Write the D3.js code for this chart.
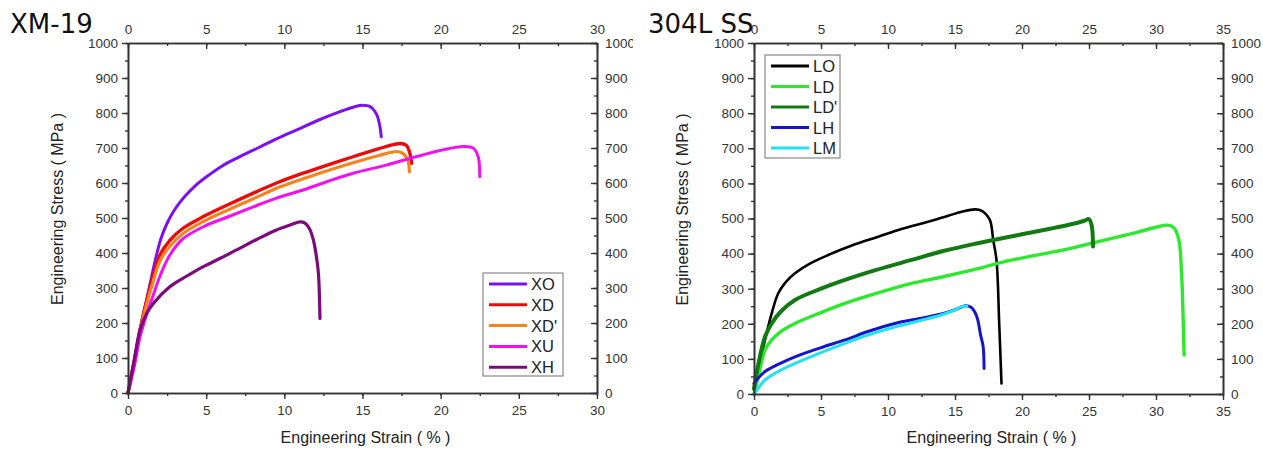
<!DOCTYPE html>
<html>
<head>
<meta charset="utf-8">
<script src="https://cdn.jsdelivr.net/npm/d3@7"></script>
<style>
  body { margin: 0; background: #fff; }
  svg { display: block; }
  .tick text { font-family: "Liberation Sans", Arial, sans-serif; fill: #333; }
</style>
</head>
<body>
<div id="chart"></div>
<script>
// Series: [strain %, stress MPa]
const XO = [[0,0],[0.4,92],[0.77,180],[1.2,268],[1.5,330],[1.8,390],[2.1,440],[2.5,485],[3.0,525],[3.6,560],[4.3,592],[5.0,617],[6.0,648],[7.0,672],[8.3,700],[9.5,726],[10.8,752],[12.2,780],[13.56,804],[14.5,818],[15.0,822],[15.5,818],[15.9,796],[16.1,765],[16.2,732]];
const XD = [[0,0],[0.4,90],[0.77,180],[1.2,265],[1.62,335],[2.05,395],[2.69,437],[3.5,470],[4.82,504],[6.5,540],[8.02,571],[9.5,600],[11.2,628],[12.8,652],[14.4,675],[16.5,704],[17.4,713],[17.8,708],[18.0,690],[18.15,656]];
const XDp = [[0,0],[0.4,88],[0.77,175],[1.2,255],[1.62,320],[2.05,378],[2.69,420],[3.5,455],[4.82,490],[6.5,525],[8.02,555],[9.5,585],[11.2,612],[12.8,636],[14.4,658],[16.0,678],[17.2,690],[17.6,684],[17.9,665],[18.0,632]];
const XU = [[0,0],[0.4,75],[0.77,160],[1.2,225],[1.62,280],[2.1,340],[2.69,395],[3.5,440],[4.82,475],[6.5,505],[8.02,532],[9.5,557],[11.2,580],[12.8,605],[14.4,628],[16.5,651],[18.0,670],[19.5,688],[20.5,698],[21.45,704],[22.1,699],[22.4,675],[22.5,618]];
const XH = [[0,0],[0.4,95],[0.77,180],[1.2,228],[1.62,256],[2.69,304],[3.8,335],[4.82,361],[6.0,387],[6.95,409],[8.2,438],[9.5,466],[10.5,482],[11.0,489],[11.3,486],[11.6,470],[11.86,437],[12.05,390],[12.18,342],[12.28,213]];

const LO = [[0,0],[0.3,60],[0.82,154],[1.32,230],[1.81,287],[2.4,320],[3.06,344],[4.2,372],[5.54,396],[7.3,423],[9.27,448],[11.0,470],[13.0,491],[14.5,508],[15.5,519],[16.5,526],[17.0,522],[17.6,496],[17.85,439],[18.1,380],[18.3,200],[18.47,30]];
const LD = [[0,0],[0.32,49],[0.82,125],[1.32,154],[2.0,178],[3.06,201],[5.0,232],[6.79,258],[9.0,285],[11.76,315],[13.87,332],[16.7,357],[18.7,377],[21.0,395],[23.3,412],[26.0,437],[28.5,460],[30.0,475],[30.8,481],[31.3,475],[31.7,440],[31.9,350],[32.0,250],[32.1,111]];
const LDp = [[0,15],[0.3,80],[0.82,163],[1.32,201],[2.0,235],[3.06,268],[5.0,300],[6.79,325],[9.0,352],[11.76,382],[14.2,408],[16.5,428],[18.7,445],[20.0,455],[22.0,470],[23.5,482],[24.6,493],[25.0,498],[25.2,480],[25.3,420]];
const LH = [[0,30],[0.3,45],[0.82,64],[2.0,88],[3.06,106],[5.0,132],[6.79,154],[8.5,178],[10.5,201],[12.5,216],[14.2,230],[15.2,243],[15.7,251],[16.2,247],[16.5,232],[16.7,211],[16.9,170],[17.1,135],[17.17,73]];
const LM = [[0,0],[0.3,15],[0.82,40],[2.0,68],[3.06,87],[5.0,118],[6.79,144],[8.5,168],[10.5,191],[12.5,210],[14.2,228],[15.0,240],[15.5,249],[15.9,250]];

const leftNames = ["XO", "XD", "XD'", "XU", "XH"];
const leftSeries = [XO, XD, XDp, XU, XH];
const leftColors = ["#7b10f0", "#e80c0c", "#f5841f", "#f010f0", "#7d0a7d"];

const rightNames = ["LO", "LD", "LD'", "LH", "LM"];
const rightSeries = [LO, LD, LDp, LH, LM];
const rightColors = ["#000000", "#2ee82e", "#127a12", "#1414c8", "#22e2f0"];

const stressTicks = [0, 100, 200, 300, 400, 500, 600, 700, 800, 900, 1000];

const W = 1263, H = 461;
const svg = d3.select("#chart").append("svg").attr("width", W).attr("height", H);

// left panel is cut off where the right picture starts
svg.append("defs").append("clipPath").attr("id", "leftClip")
  .append("rect").attr("x", 0).attr("y", 0).attr("width", 633).attr("height", H);

drawPanel({
  title: "XM-19", titleX: 10,
  x0: 128, x1: 597, y0: 43, y1: 393,
  xMax: 30, xMajor: [0, 5, 10, 15, 20, 25, 30],
  names: leftNames, series: leftSeries, colors: leftColors,
  widths: [3, 3.4, 3.2, 3, 3.2],
  legend: { x: 483, y: 273, w: 80, h: 103, rowY: 11, step: 20.8 },
  yTitleX: 57, clip: "url(#leftClip)"
});

drawPanel({
  title: "304L SS", titleX: 648,
  x0: 754, x1: 1223, y0: 43, y1: 394,
  xMax: 35, xMajor: [0, 5, 10, 15, 20, 25, 30, 35],
  names: rightNames, series: rightSeries, colors: rightColors,
  widths: [2.6, 3.4, 4, 3, 3],
  legend: { x: 765, y: 55, w: 75, h: 103, rowY: 11, step: 20.5 },
  yTitleX: 682, clip: null
});

function drawPanel(cfg) {
  const g = svg.append("g");
  if (cfg.clip) g.attr("clip-path", cfg.clip);

  const x = d3.scaleLinear().domain([0, cfg.xMax]).range([cfg.x0, cfg.x1]);
  const y = d3.scaleLinear().domain([0, 1000]).range([cfg.y1, cfg.y0]);
  const xMinor = d3.range(0, cfg.xMax + 0.01, 2.5);
  const yMinor = d3.range(0, 1001, 50);

  // curves first, axes frame on top
  const line = d3.line()
    .x(d => x(d[0]))
    .y(d => y(d[1]))
    .curve(d3.curveCatmullRom.alpha(0.5));

  cfg.series.forEach((s, i) => {
    g.append("path")
      .datum(s)
      .attr("d", line)
      .attr("fill", "none")
      .attr("stroke", cfg.colors[i])
      .attr("stroke-width", cfg.widths[i])
      .attr("stroke-linejoin", "round")
      .attr("stroke-linecap", "round");
  });

  const fmtNone = () => "";
  const fmtInt = d3.format("d");
  const axisColor = "#333";

  function styleAxis(sel) {
    sel.select(".domain").attr("stroke", axisColor).attr("stroke-width", 1.6);
    sel.selectAll(".tick line").attr("stroke", axisColor).attr("stroke-width", 1.4);
    sel.selectAll(".tick text").style("font-size", "13.5px");
  }

  // bottom: ticks pointing down, labels below
  g.append("g").attr("transform", `translate(0,${cfg.y1})`)
    .call(d3.axisBottom(x).tickValues(xMinor).tickSize(3).tickFormat(fmtNone).tickSizeOuter(0))
    .call(styleAxis);
  g.append("g").attr("transform", `translate(0,${cfg.y1})`)
    .call(d3.axisBottom(x).tickValues(cfg.xMajor).tickSize(6).tickPadding(6).tickFormat(fmtInt).tickSizeOuter(0))
    .call(styleAxis);

  // top: ticks also pointing down, labels above
  g.append("g").attr("transform", `translate(0,${cfg.y0})`)
    .call(d3.axisBottom(x).tickValues(xMinor).tickSize(3).tickFormat(fmtNone).tickSizeOuter(0))
    .call(styleAxis);
  g.append("g").attr("transform", `translate(0,${cfg.y0})`)
    .call(d3.axisBottom(x).tickValues(cfg.xMajor).tickSize(6).tickFormat(fmtNone).tickSizeOuter(0))
    .call(styleAxis);
  g.append("g").attr("transform", `translate(0,${cfg.y0})`)
    .call(d3.axisTop(x).tickValues(cfg.xMajor).tickSize(0).tickPadding(9).tickFormat(fmtInt))
    .call(styleAxis)
    .call(a => a.select(".domain").remove());

  // left: ticks pointing left
  g.append("g").attr("transform", `translate(${cfg.x0},0)`)
    .call(d3.axisLeft(y).tickValues(yMinor).tickSize(3).tickFormat(fmtNone).tickSizeOuter(0))
    .call(styleAxis);
  g.append("g").attr("transform", `translate(${cfg.x0},0)`)
    .call(d3.axisLeft(y).tickValues(stressTicks).tickSize(6).tickPadding(4).tickFormat(fmtInt).tickSizeOuter(0))
    .call(styleAxis);

  // right: ticks pointing left (inside), labels on the right
  g.append("g").attr("transform", `translate(${cfg.x1},0)`)
    .call(d3.axisLeft(y).tickValues(yMinor).tickSize(3).tickFormat(fmtNone).tickSizeOuter(0))
    .call(styleAxis);
  g.append("g").attr("transform", `translate(${cfg.x1},0)`)
    .call(d3.axisLeft(y).tickValues(stressTicks).tickSize(6).tickFormat(fmtNone).tickSizeOuter(0))
    .call(styleAxis);
  g.append("g").attr("transform", `translate(${cfg.x1},0)`)
    .call(d3.axisRight(y).tickValues(stressTicks).tickSize(0).tickPadding(8).tickFormat(fmtInt))
    .call(styleAxis)
    .call(a => a.select(".domain").remove());

  // axis titles
  g.append("text")
    .attr("x", (cfg.x0 + cfg.x1) / 2 + 3)
    .attr("y", 443)
    .attr("text-anchor", "middle")
    .style("font-family", "Liberation Sans, Arial, sans-serif")
    .style("font-size", "16px")
    .style("fill", "#222")
    .text("Engineering Strain ( % )");

  g.append("text")
    .attr("transform", `translate(${cfg.yTitleX + 6},${(cfg.y0 + cfg.y1) / 2 - 9}) rotate(-90)`)
    .attr("text-anchor", "middle")
    .style("font-family", "Liberation Sans, Arial, sans-serif")
    .style("font-size", "16px")
    .style("fill", "#222")
    .text("Engineering Stress ( MPa )");

  // legend box
  const lg = g.append("g").attr("transform", `translate(${cfg.legend.x},${cfg.legend.y})`);
  lg.append("rect")
    .attr("width", cfg.legend.w)
    .attr("height", cfg.legend.h)
    .attr("fill", "#fff")
    .attr("stroke", "#888")
    .attr("stroke-width", 1.2);

  cfg.names.forEach((n, i) => {
    const ry = cfg.legend.rowY + i * cfg.legend.step;
    lg.append("line")
      .attr("x1", 6).attr("x2", 44)
      .attr("y1", ry).attr("y2", ry)
      .attr("stroke", cfg.colors[i])
      .attr("stroke-width", 3);
    lg.append("text")
      .attr("x", 48).attr("y", ry + 6)
      .style("font-family", "Liberation Sans, Arial, sans-serif")
      .style("font-size", "16.5px")
      .style("fill", "#222")
      .text(n);
  });

  // panel title
  svg.append("text")
    .attr("x", cfg.titleX)
    .attr("y", 33)
    .style("font-family", "DejaVu Sans, sans-serif")
    .style("font-size", "26px")
    .style("fill", "#111")
    .text(cfg.title);
}
</script>
</body>
</html>
